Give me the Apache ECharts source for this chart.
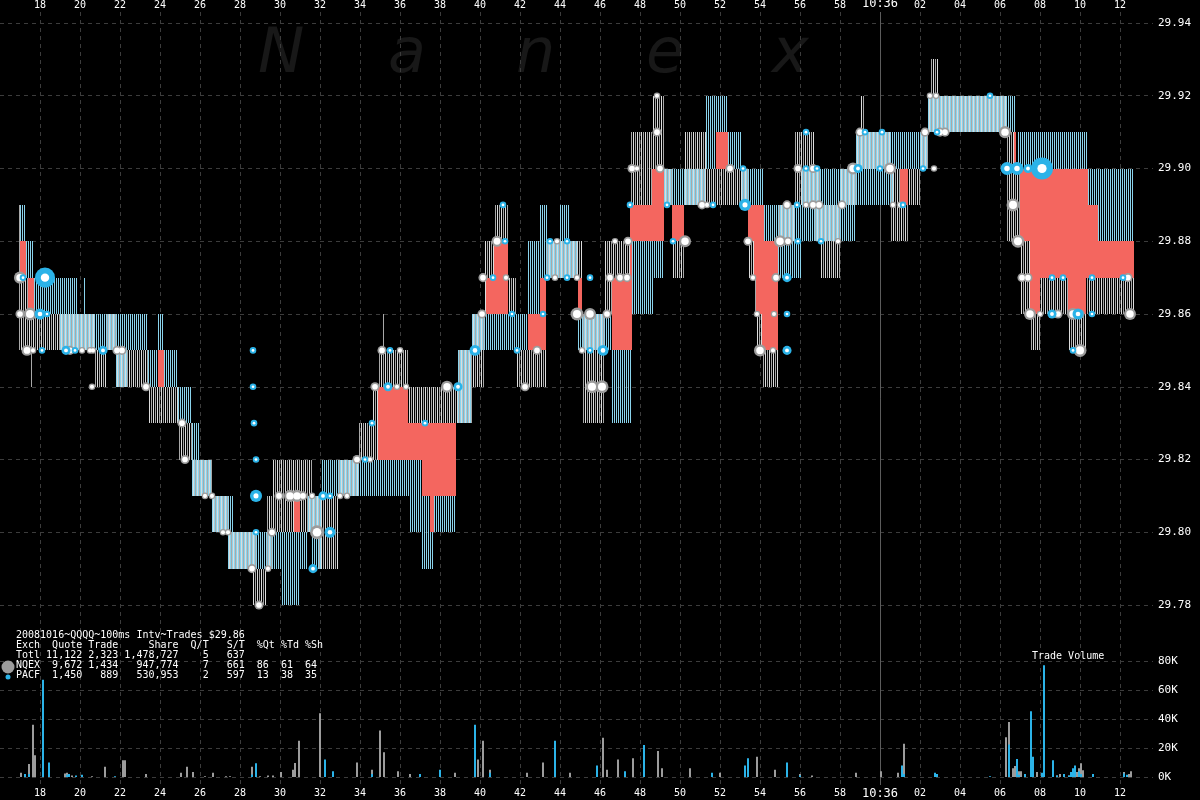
<!DOCTYPE html>
<html><head><meta charset="utf-8">
<script src="https://cdn.jsdelivr.net/npm/echarts@6/dist/echarts.min.js"></script>
<style>html,body{margin:0;padding:0;background:#000}#c{width:1200px;height:800px}</style>
</head><body><div id="c"></div>
<script>
// ---------- DATA ----------
// time axis: seconds after 10:35:00
const tickTimes  = [18,20,22,24,26,28,30,32,34,36,38,40,42,44,46,48,50,52,54,56,58,60,62,64,66,68,70,72];
const tickLabels = ['18','20','22','24','26','28','30','32','34','36','38','40','42','44','46','48','50','52','54','56','58','10:36','02','04','06','08','10','12'];
const priceTicks = [29.78,29.80,29.82,29.84,29.86,29.88,29.90,29.92,29.94];
const volumeTicks = [0,20000,40000,60000,80000];

// quotes per exchange: [tStart, tEnd, bid, ask]
const nqexQuotes = [
 [16.9,17.0,29.85,29.89],[17.0,17.4,29.85,29.87],[17.4,17.5,29.85,29.86],[17.5,17.6,29.84,29.86],
 [17.6,20.65,29.85,29.86],[20.65,21.25,29.84,29.85],[21.25,21.75,29.85,29.86],[21.75,23.35,29.84,29.85],
 [23.35,24.9,29.83,29.84],[24.9,25.6,29.82,29.83],[25.6,26.6,29.81,29.82],[26.6,27.35,29.80,29.81],
 [27.35,28.6,29.79,29.80],[28.6,28.8,29.78,29.80],[28.8,29.25,29.78,29.79],[29.25,29.6,29.79,29.81],
 [29.6,30.65,29.80,29.82],[30.65,31.0,29.81,29.82],[31.0,31.6,29.80,29.82],[31.6,31.85,29.80,29.81],
 [31.85,32.85,29.79,29.81],[32.85,33.9,29.81,29.82],[33.9,34.6,29.82,29.83],[34.6,34.85,29.82,29.84],
 [34.85,35.1,29.84,29.85],[35.1,35.2,29.84,29.86],[35.2,36.4,29.84,29.85],[36.4,38.9,29.83,29.84],
 [38.9,39.6,29.83,29.85],[39.6,40.15,29.84,29.86],[40.15,40.3,29.86,29.88],[40.3,40.65,29.87,29.88],
 [40.65,41.4,29.88,29.89],[41.4,41.75,29.86,29.87],[41.75,43.25,29.84,29.85],[43.25,45.1,29.87,29.88],
 [45.1,46.15,29.83,29.86],[46.15,46.6,29.86,29.88],[46.6,47.5,29.87,29.88],[47.5,48.6,29.89,29.91],
 [48.6,49.15,29.90,29.92],[49.15,49.6,29.89,29.90],[49.6,50.15,29.87,29.88],[50.15,51.25,29.89,29.91],
 [51.25,53.35,29.89,29.90],[53.35,53.65,29.87,29.88],[53.65,53.75,29.86,29.87],[53.75,54.1,29.85,29.86],
 [54.1,54.85,29.84,29.85],[54.85,55.65,29.88,29.89],[55.65,56.65,29.89,29.91],[56.65,57.0,29.88,29.90],
 [57.0,58.0,29.87,29.89],[58.0,58.75,29.89,29.90],[58.75,59.0,29.90,29.91],[59.0,59.2,29.90,29.92],
 [59.2,60.5,29.90,29.91],[60.5,60.95,29.88,29.90],[60.95,61.35,29.88,29.89],[61.35,62.0,29.89,29.90],
 [62.0,62.35,29.90,29.91],[62.35,62.5,29.91,29.92],[62.5,62.9,29.91,29.93],[62.9,66.25,29.91,29.92],
 [66.25,66.7,29.88,29.91],[66.7,67.0,29.88,29.90],[67.0,67.5,29.86,29.88],[67.5,68.0,29.85,29.86],
 [68.0,69.35,29.86,29.87],[69.35,70.3,29.85,29.86],[70.3,72.65,29.86,29.87]
];
const pacfQuotes = [
 [17.0,17.25,29.88,29.89],[17.25,17.65,29.87,29.88],[17.65,19.0,29.86,29.87],[19.0,19.85,29.85,29.87],
 [19.85,20.15,29.85,29.86],[20.15,20.3,29.85,29.87],[20.3,21.75,29.85,29.86],[21.75,22.35,29.84,29.86],
 [22.35,23.35,29.85,29.86],[23.35,23.9,29.84,29.85],[23.9,24.15,29.85,29.86],[24.15,24.9,29.84,29.85],
 [24.9,25.6,29.83,29.84],[25.6,26.0,29.81,29.83],[26.0,26.6,29.81,29.82],[26.6,27.35,29.80,29.81],
 [27.35,27.65,29.79,29.81],[27.65,30.1,29.79,29.80],[30.1,31.0,29.78,29.80],[31.0,31.4,29.79,29.80],
 [31.4,31.6,29.80,29.81],[31.6,32.1,29.79,29.81],[32.1,36.5,29.81,29.82],[36.5,37.1,29.80,29.82],
 [37.1,37.5,29.79,29.81],[37.5,37.7,29.79,29.80],[37.7,38.75,29.80,29.81],[38.9,39.6,29.83,29.85],
 [39.6,42.35,29.85,29.86],[42.35,42.95,29.86,29.88],[42.95,43.35,29.87,29.89],[43.35,43.95,29.87,29.88],
 [43.95,44.5,29.87,29.89],[44.5,44.9,29.87,29.88],[44.9,46.6,29.85,29.86],[46.6,47.6,29.83,29.85],
 [47.6,48.65,29.86,29.88],[48.65,49.15,29.87,29.88],[49.15,51.25,29.89,29.90],[51.25,51.8,29.90,29.92],
 [51.8,52.35,29.91,29.92],[52.35,53.1,29.90,29.91],[53.1,54.15,29.89,29.90],[54.15,54.9,29.88,29.89],
 [54.9,56.1,29.87,29.89],[56.1,58.75,29.88,29.90],[58.75,60.65,29.89,29.91],[60.65,62.35,29.90,29.91],
 [62.35,66.8,29.91,29.92],[66.9,70.4,29.90,29.91],[70.4,70.9,29.89,29.90],[70.9,72.65,29.88,29.90]
];

// trades: [t, price, shares]
const nqexTrades = [
 [17.0,29.87,2000],[17.0,29.86,800],[17.5,29.86,2500],[17.35,29.85,1500],[17.65,29.85,200],[19.5,29.85,800],
 [20.1,29.85,200],[20.5,29.85,200],[20.65,29.85,200],[21.85,29.85,800],[22.1,29.85,800],[20.6,29.84,200],
 [23.3,29.84,800],[25.1,29.83,800],[25.25,29.82,800],[26.25,29.81,200],[26.6,29.81,200],[27.15,29.80,200],
 [27.4,29.80,200],[28.6,29.79,800],[29.4,29.79,200],[28.95,29.78,800],[29.6,29.80,800],[29.95,29.81,800],
 [30.5,29.81,2000],[30.85,29.81,2000],[31.15,29.81,800],[31.6,29.81,200],[33.0,29.81,200],[33.35,29.81,200],
 [31.85,29.80,3000],[33.85,29.82,800],[34.5,29.82,200],[34.75,29.84,800],[35.1,29.85,800],[36.0,29.85,200],
 [35.85,29.84,200],[36.3,29.84,200],[38.35,29.84,2000],[40.1,29.86,800],[40.15,29.87,800],[40.85,29.88,1500],
 [41.3,29.87,200],[42.25,29.84,800],[42.85,29.85,800],[43.85,29.88,200],[43.75,29.87,200],[44.85,29.87,200],
 [44.85,29.86,2500],[45.5,29.86,2000],[45.1,29.85,200],[45.6,29.84,2500],[46.1,29.84,2500],[46.35,29.86,800],
 [46.5,29.87,800],[47.0,29.87,800],[47.35,29.87,800],[46.75,29.88,200],[47.4,29.88,800],[47.6,29.90,800],
 [47.85,29.90,200],[48.85,29.92,200],[48.85,29.91,800],[49.0,29.90,800],[50.25,29.88,2000],[51.1,29.89,800],
 [51.35,29.89,200],[52.5,29.90,800],[53.4,29.88,800],[53.65,29.87,200],[54.8,29.87,800],[53.85,29.86,200],
 [54.7,29.86,200],[54.0,29.85,2000],[54.65,29.85,200],[55.0,29.88,2000],[55.4,29.88,800],[55.35,29.89,800],
 [56.3,29.89,200],[56.65,29.89,800],[56.95,29.89,800],[55.9,29.90,800],[56.65,29.90,800],[57.9,29.88,200],
 [58.1,29.89,800],[58.65,29.90,2000],[59.0,29.91,800],[60.5,29.90,2000],[60.65,29.89,200],[61.0,29.89,200],
 [62.25,29.91,800],[62.7,29.90,200],[63.0,29.91,800],[63.25,29.91,800],[62.5,29.92,200],[62.8,29.92,200],
 [66.25,29.91,2000],[66.6,29.90,800],[66.65,29.89,2500],[66.9,29.88,2500],[67.1,29.87,800],[67.4,29.87,800],
 [67.5,29.86,2000],[68.0,29.86,200],[68.9,29.86,800],[69.65,29.86,2000],[70.0,29.86,800],[70.0,29.85,2500],
 [72.4,29.87,800],[72.5,29.86,2000]
];
const pacfTrades = [
 [17.15,29.87,200],[18.25,29.87,8000],[18.0,29.86,1500],[18.35,29.86,200],[18.1,29.85,200],[19.3,29.85,800],
 [19.75,29.85,200],[21.15,29.85,800],[28.65,29.85,200],[28.65,29.84,200],[28.7,29.83,200],[28.8,29.82,200],
 [28.8,29.81,2000],[28.8,29.80,200],[32.15,29.81,800],[32.5,29.81,200],[32.5,29.80,1500],[31.65,29.79,800],
 [34.25,29.82,200],[34.6,29.83,200],[35.5,29.85,200],[35.4,29.84,800],[37.25,29.83,200],[38.9,29.84,800],
 [39.75,29.85,1500],[41.25,29.88,200],[41.15,29.89,200],[40.65,29.87,200],[41.6,29.86,200],[41.85,29.85,200],
 [43.15,29.86,200],[43.35,29.87,200],[43.5,29.88,200],[44.35,29.88,200],[44.35,29.87,200],[45.5,29.87,200],
 [45.5,29.85,200],[46.15,29.85,1500],[47.5,29.89,200],[49.35,29.89,200],[49.65,29.88,200],[51.65,29.89,200],
 [53.15,29.90,200],[53.25,29.89,2000],[55.35,29.87,800],[55.35,29.86,200],[55.35,29.85,800],[55.9,29.88,200],
 [55.85,29.89,200],[56.3,29.90,200],[56.85,29.90,200],[56.3,29.91,200],[57.05,29.88,200],[58.9,29.90,800],
 [60.0,29.90,200],[59.25,29.91,200],[60.1,29.91,200],[61.15,29.89,200],[62.15,29.90,200],[62.85,29.91,200],
 [65.5,29.92,200],[66.35,29.90,2500],[66.85,29.90,2500],[67.4,29.90,800],[68.1,29.90,10000],[68.6,29.87,200],
 [69.15,29.87,200],[70.6,29.87,200],[72.15,29.87,200],[68.6,29.86,800],[69.9,29.86,1500],[70.6,29.86,200],
 [69.65,29.85,200]
];

// volume per 100ms interval
const volTimes = [17.05,17.25,17.45,17.65,17.75,18.15,18.45,19.25,19.35,19.45,19.6,19.8,20.1,20.6,21.25,21.75,22.15,22.25,23.3,25.05,25.35,25.65,26.25,26.65,27.3,27.5,28.6,28.8,29.0,29.4,29.65,30.05,30.65,30.75,30.95,32.0,32.25,32.65,33.85,34.6,35.0,35.2,35.9,36.5,37.0,38.0,38.75,39.75,39.9,40.15,40.5,42.35,43.15,43.75,44.5,45.85,46.15,46.35,46.9,47.25,47.65,48.2,48.9,49.1,50.5,51.6,52.0,53.25,53.4,53.85,54.75,55.35,56.0,56.6,58.8,60.05,60.9,61.1,61.2,62.75,62.85,65.5,66.3,66.45,66.65,66.75,66.85,66.95,67.05,67.25,67.55,67.65,67.85,68.1,68.2,68.65,68.85,69.0,69.2,69.45,69.55,69.65,69.75,69.85,69.95,70.05,70.15,70.65,72.2,72.35,72.45,72.55];
const volNqex  = [3000,0,9000,36000,15000,0,0,2500,3000,0,1000,0,0,500,7000,0,11500,11500,2000,3000,7000,3500,500,3000,500,500,7000,2000,500,1000,1000,3500,5000,9600,25000,44000,0,0,10000,5000,32000,17000,4000,2000,0,0,3000,0,12000,25000,5000,3000,10000,0,3000,0,27000,5000,12000,0,13000,0,18000,6000,6000,0,3000,0,0,14000,5000,0,2000,1000,3000,4000,3000,0,23000,0,0,0,27500,38000,6000,7600,11000,4000,4000,0,12600,0,3500,0,0,0,1000,2000,0,1000,1500,0,6000,3500,6000,9500,4600,0,3500,1000,2000,4000];
const volPacf  = [0,2000,2000,0,0,67000,10000,0,1500,2000,0,1000,1500,0,0,500,0,0,0,0,0,0,0,0,0,0,1700,9500,0,0,0,0,0,0,0,0,12000,4000,0,2000,0,0,0,0,2000,5000,0,36000,0,0,3000,0,0,25000,0,8000,0,0,0,4000,0,22000,0,0,0,3000,0,8000,13000,0,0,10000,1000,0,0,0,0,8000,2000,3000,2000,500,0,22500,0,0,12400,1500,0,2000,45400,14000,0,3000,77000,11500,1000,0,2000,1000,3500,6000,8000,0,4000,2000,0,2000,2500,1500,0,0];

const infoLines = [
 '20081016~QQQQ~100ms Intv~Trades $29.86',
 'Exch  Quote Trade     Share  Q/T   S/T  %Qt %Td %Sh',
 'Totl 11,122 2,323 1,478,727    5   637',
 'NQEX  9,672 1,434   947,774    7   661  86  61  64',
 'PACF  1,450   889   530,953    2   597  13  38  35'
];

// ---------- STYLE ----------
const FONT = '"DejaVu Sans Mono", monospace';
const RED = '#f4665f', CYAN_LINE = '#8ad3ec', CYAN = '#2bb3e8', GRAY = '#9c9c9c';
const GRIDC = '#3c3c3c';
const TMIN = 16, TMAX = 73.65;

// ---------- BUILD ----------
function expand(segs) {
  const m = new Map();
  for (const [a, b, lo, hi] of segs)
    for (let k = Math.round(a * 10); k < Math.round(b * 10); k++) m.set(k, [lo, hi]);
  return m;
}
const mN = expand(nqexQuotes), mP = expand(pacfQuotes);
const nqexSteps = [], pacfSteps = [], crossSteps = [];
mN.forEach((v, k) => nqexSteps.push([k / 10, v[0], v[1]]));
mP.forEach((v, k) => pacfSteps.push([k / 10, v[0], v[1]]));
mN.forEach((n, k) => {                    // crossed markets (red)
  const p = mP.get(k); if (!p) return;
  if (p[0] > n[1] + 1e-9) crossSteps.push([k / 10, n[1], p[0]]);
  else if (n[0] > p[1] + 1e-9) crossSteps.push([k / 10, p[1], n[0]]);
});

function stripeRenderer(offset, width, colorFn) {
  return function (params, api) {
    const t = api.value(0), lo = api.value(1), hi = api.value(2);
    const a = api.coord([t, hi]), b = api.coord([t, lo]);
    const x = Math.round(a[0]) + offset, y0 = Math.round(a[1]), y1 = Math.round(b[1]);
    return { type: 'rect', shape: { x: x, y: y0, width: width, height: Math.max(1, y1 - y0) },
      style: { fill: colorFn(t) } };
  };
}

function tradeSize(sh) { return 4 + Math.sqrt(sh) * 0.18; }
function xLabel(v) {
  const i = tickTimes.findIndex(t => Math.abs(t - v) < 1e-6);
  if (i < 0) return '';
  return tickLabels[i] === '10:36' ? '{b|10:36}' : tickLabels[i];
}

const chart = echarts.init(document.getElementById('c'), null, { renderer: 'canvas' });
const xBase = { type: 'value', min: TMIN, max: TMAX, interval: 2,
  axisLine: { show: false }, axisTick: { show: false }, splitLine: { show: false } };
const xLab = { color: '#fff', fontFamily: FONT, fontSize: 10, formatter: xLabel,
  showMinLabel: false, showMaxLabel: false,
  rich: { b: { fontFamily: FONT, fontSize: 12, color: '#fff' } } };

const wmLetters = ['N', 'a', 'n', 'e', 'x'];
const wmX = [258, 388, 516, 646, 772];

const quoteSeries = (data, offset, width, colorFn, z) => ({
  type: 'custom', xAxisIndex: 1, yAxisIndex: 1, data: data, silent: true, z: z,
  encode: { x: 0, y: [1, 2] }, renderItem: stripeRenderer(offset, width, colorFn)
});

const option = {
  backgroundColor: '#000',
  animation: false,
  grid: [
    { left: 0, right: 47, top: 12, bottom: 15, outerBoundsMode: 'none' },
    { left: 0, right: 47, top: 23, height: 582, outerBoundsMode: 'none' },
    { left: 0, right: 47, top: 661, height: 116, outerBoundsMode: 'none' }
  ],
  xAxis: [
    Object.assign({}, xBase, { gridIndex: 0, axisLabel: { show: false },
      splitLine: { show: true, showMinLine: false, showMaxLine: false, lineStyle: { color: GRIDC, type: [4, 4], width: 1 } } }),
    Object.assign({}, xBase, { gridIndex: 1, position: 'top', axisLabel: Object.assign({ margin: 13 }, xLab) }),
    Object.assign({}, xBase, { gridIndex: 2, position: 'bottom', axisLabel: Object.assign({ margin: 11 }, xLab) })
  ],
  yAxis: [
    { gridIndex: 0, type: 'value', min: 0, max: 1, show: false },
    { gridIndex: 1, type: 'value', position: 'right', min: priceTicks[0], max: priceTicks[priceTicks.length - 1], interval: 0.02,
      axisLine: { show: false }, axisTick: { show: false },
      axisLabel: { color: '#fff', fontFamily: FONT, fontSize: 11, margin: 5, formatter: v => v.toFixed(2) },
      splitLine: { show: true, lineStyle: { color: GRIDC, type: [4, 4], width: 1 } } },
    { gridIndex: 2, type: 'value', position: 'right', min: volumeTicks[0], max: volumeTicks[volumeTicks.length - 1], interval: 20000,
      axisLine: { show: false }, axisTick: { show: false },
      axisLabel: { color: '#fff', fontFamily: FONT, fontSize: 11, margin: 5, formatter: v => (v / 1000) + 'K' },
      splitLine: { show: true, lineStyle: { color: GRIDC, type: [4, 4], width: 1 } } }
  ],
  graphic: [
    ...wmLetters.map((ch, i) => ({ type: 'text', z: 0, left: wmX[i], top: 25, silent: true,
      style: { text: ch, font: 'italic 62px "DejaVu Sans"', fill: '#181818' } })),
    ...infoLines.map((s, i) => ({ type: 'text', z: 50, left: 16, top: 630 + i * 10.2, silent: true,
      style: { text: s, font: '10px ' + FONT, fill: '#fff' } })),
    { type: 'circle', z: 50, shape: { cx: 8, cy: 667, r: 6.5 }, style: { fill: GRAY } },
    { type: 'circle', z: 50, shape: { cx: 8, cy: 677, r: 2.5 }, style: { fill: CYAN } },
    { type: 'text', z: 50, left: 1032, top: 651, style: { text: 'Trade Volume', font: '10px ' + FONT, fill: '#fff' } }
  ],
  series: [
    { type: 'custom', xAxisIndex: 0, yAxisIndex: 0, data: [[60]], silent: true, z: 1,
      renderItem: (params, api) => {
        const cs = params.coordSys; const x = Math.round(api.coord([api.value(0), 0])[0]) + 0.5;
        return { type: 'line', shape: { x1: x, y1: cs.y, x2: x, y2: cs.y + cs.height }, style: { stroke: '#5c5c5c', lineWidth: 1 } };
      } },
    quoteSeries(crossSteps, 0, 2, () => RED, 2),
    quoteSeries(nqexSteps, 1, 1, t => (Math.round(t * 10) % 2 === 0 ? '#dcdcdc' : '#a8a8a8'), 3),
    quoteSeries(pacfSteps, 0, 1, () => CYAN_LINE, 4),
    { type: 'scatter', name: 'NQEX', xAxisIndex: 1, yAxisIndex: 1, data: nqexTrades, z: 5, silent: true,
      symbolSize: d => tradeSize(d[2]), itemStyle: { color: GRAY, opacity: 1 } },
    { type: 'scatter', xAxisIndex: 1, yAxisIndex: 1, data: nqexTrades, z: 6, silent: true,
      symbolSize: d => tradeSize(d[2]) * 0.62, itemStyle: { color: '#ffffff', opacity: 1 } },
    { type: 'scatter', name: 'PACF', xAxisIndex: 1, yAxisIndex: 1, data: pacfTrades, z: 7, silent: true,
      symbolSize: d => tradeSize(d[2]), itemStyle: { color: CYAN, opacity: 1 } },
    { type: 'scatter', xAxisIndex: 1, yAxisIndex: 1, data: pacfTrades, z: 8, silent: true,
      symbolSize: d => tradeSize(d[2]) * 0.42, itemStyle: { color: '#ffffff', opacity: 1 } },
    { type: 'bar', name: 'NQEX vol', xAxisIndex: 2, yAxisIndex: 2, stack: 'v', barWidth: 2, silent: true,
      data: volTimes.map((t, i) => [t, volNqex[i]]), itemStyle: { color: GRAY } },
    { type: 'bar', name: 'PACF vol', xAxisIndex: 2, yAxisIndex: 2, stack: 'v', barWidth: 2, silent: true,
      data: volTimes.map((t, i) => [t, volPacf[i]]), itemStyle: { color: CYAN } }
  ]
};
chart.setOption(option);
</script>
</body></html>
